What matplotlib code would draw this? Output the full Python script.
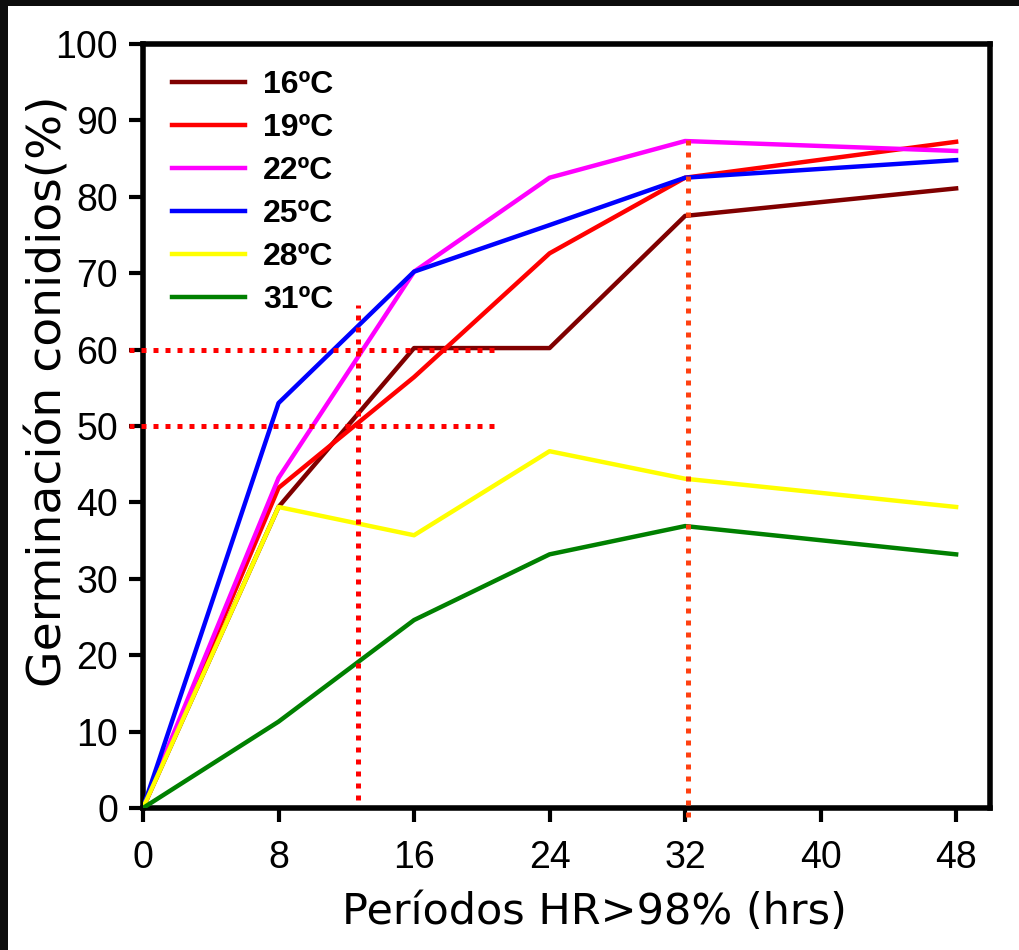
import matplotlib.pyplot as plt
from matplotlib.patches import Rectangle

plt.rcParams['font.family'] = ['Liberation Sans', 'DejaVu Sans']

# data
hours = [0, 8, 16, 24, 32, 48]
series_names = ['16ºC', '19ºC', '22ºC', '25ºC', '28ºC', '31ºC']
g16 = [0, 39.4, 60.2, 60.2, 77.5, 81.1]
g19 = [0, 41.9, 56.4, 72.6, 82.5, 87.2]
g22 = [0, 43.2, 70.2, 82.5, 87.3, 86.0]
g25 = [0, 53.0, 70.2, 76.3, 82.5, 84.8]
g28 = [0, 39.4, 35.7, 46.7, 43.1, 39.4]
g31 = [0, 11.3, 24.6, 33.2, 36.9, 33.2]
series_values = [g16, g19, g22, g25, g28, g31]
colors = ['#800000', '#ff0000', '#ff00ff', '#0000ff', '#ffff00', '#008000']

# guide lines (dotted)
h_levels = [60, 50]
h_span = [-0.8, 20.7]
v1_x = 12.7
v1_span = [1.0, 65.8]
v2_x = 32.2
v2_span = [-1.2, 87.4]

xticks = [0, 8, 16, 24, 32, 40, 48]
yticks = list(range(0, 101, 10))

fig = plt.figure(figsize=(10.2, 9.5), dpi=100)
fig.patch.set_facecolor('#0d0d0d')
bg = Rectangle((8 / 1020, 0), 1 - 8 / 1020, 944 / 950,
               transform=fig.transFigure, facecolor='white',
               edgecolor='none', zorder=-10)
fig.patches.append(bg)

ax = fig.add_axes([143 / 1020, 1 - 808 / 950, (990 - 143) / 1020, (808 - 44) / 950])
ax.set_zorder(1)
ax.set_facecolor('white')

for name, vals, c in zip(series_names, series_values, colors):
    ax.plot(hours, vals, color=c, lw=3.2, label=name, zorder=3)

dot = (0, (1.0, 1.4))
for lvl in h_levels:
    ax.plot(h_span, [lvl, lvl], color='#ff0000', lw=3.6, linestyle=dot,
            clip_on=False, zorder=4)
ax.plot([v1_x, v1_x], v1_span, color='#ff0000', lw=3.6, linestyle=dot,
        clip_on=False, zorder=4)
ax.plot([v2_x, v2_x], v2_span, color='#ff4010', lw=3.6, linestyle=dot,
        clip_on=False, zorder=4)

ax.set_xlim(0, 50)
ax.set_ylim(0, 100)
ax.set_xticks(xticks)
ax.set_yticks(yticks)
ax.tick_params(direction='out', length=10, width=3, labelsize=27)
ax.tick_params(axis='x', pad=13)
ax.tick_params(axis='y', pad=8)
for s in ax.spines.values():
    s.set_linewidth(4)

ax.set_xlabel('Períodos HR>98% (hrs)', fontsize=31, family=['DejaVu Sans'])
ax.set_ylabel('Germinación conidios(%)', fontsize=34, family=['DejaVu Sans'])
ax.xaxis.set_label_coords(0.533, -0.108)
ax.yaxis.set_label_coords(-0.084, 0.545)

leg = ax.legend(loc='upper left', frameon=False,
                prop={'weight': 'bold', 'size': 23}, handlelength=2.3,
                handletextpad=0.55, labelspacing=0.41,
                bbox_to_anchor=(0.0, 1.004), borderaxespad=0.5)

fig.savefig('out.png', dpi=100, facecolor=fig.get_facecolor())
